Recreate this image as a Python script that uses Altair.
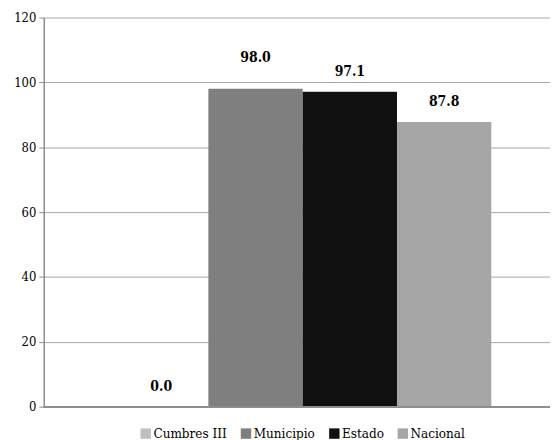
import altair as alt
import pandas as pd

series = ["Cumbres III", "Municipio", "Estado", "Nacional"]
values = [0.0, 98.0, 97.1, 87.8]
colors = ["#BFBFBF", "#7F7F7F", "#111111", "#A6A6A6"]

df = pd.DataFrame({"serie": series, "valor": values, "label": [f"{v:.1f}" for v in values]})

FONT = "DejaVu Serif Condensed, DejaVu Serif"

x = alt.X("serie:N", sort=series, axis=None,
          scale=alt.Scale(paddingInner=0, paddingOuter=0.684, align=0.545))
y = alt.Y("valor:Q", scale=alt.Scale(domain=[0, 120]),
          axis=alt.Axis(values=[0, 20, 40, 60, 80, 100, 120], title=None,
                        grid=True, gridColor="#A6A6A6", gridWidth=1,
                        domainColor="#8C8C8C", domainWidth=1.5,
                        tickColor="#8C8C8C", tickSize=5, tickWidth=1,
                        labelFont=FONT, labelFontSize=13, labelColor="#000000",
                        labelPadding=3))

bars = alt.Chart(df).mark_bar(size=95).encode(
    x=x, y=y,
    color=alt.Color("serie:N", sort=series,
                    scale=alt.Scale(domain=series, range=colors),
                    legend=alt.Legend(orient="none", direction="horizontal",
                                      legendX=96, legendY=412, title=None,
                                      symbolType="square", symbolSize=110,
                                      symbolStrokeWidth=0,
                                      labelFont=FONT, labelFontSize=13.5,
                                      labelColor="#000000", columnPadding=12,
                                      symbolOffset=0, labelOffset=1))
)

base_text = alt.Chart(df).mark_text(font=FONT, fontSize=14, fontWeight="bold",
                                    color="#000000", baseline="bottom", dy=-13).encode(
    x=x, y=alt.Y("valor:Q"), text="label:N")

text_main = base_text.transform_filter(alt.datum.serie != "Municipio")
text_muni = alt.Chart(df).mark_text(font=FONT, fontSize=14, fontWeight="bold",
                                    color="#000000", baseline="bottom", dy=-24).encode(
    x=x, y=alt.Y("valor:Q"), text="label:N").transform_filter(alt.datum.serie == "Municipio")

xaxis_line = alt.Chart(df).mark_rule(color="#8C8C8C", strokeWidth=1.5).encode(
    x=alt.value(0), x2=alt.value(510), y=alt.value(392))

chart = alt.layer(bars, xaxis_line, text_main, text_muni).properties(
    width=510, height=392,
    autosize=alt.AutoSizeParams(type="none"),
    padding={"left": 36, "top": 8, "right": 0, "bottom": 32},
    background="#FFFFFF",
).configure_view(stroke=None)

chart.save("out.html", embed_options={"renderer": "svg", "actions": False})
